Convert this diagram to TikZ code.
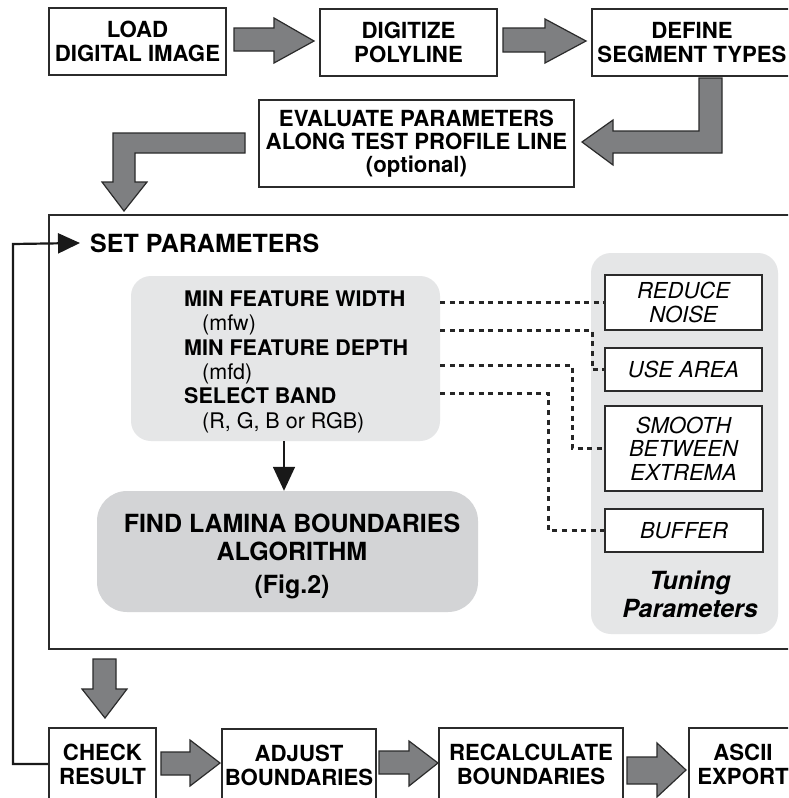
\documentclass[tikz,border=0pt]{standalone}
\usepackage{fontspec}
\setmainfont{TeX Gyre Heros}
\usetikzlibrary{arrows.meta}
\definecolor{arrowgray}{HTML}{7E7F81}
\definecolor{edgegray}{HTML}{2B2B2B}
\definecolor{lightpanel}{HTML}{E5E6E7}
\definecolor{midpanel}{HTML}{D3D4D6}
\begin{document}
\begin{tikzpicture}[x=1pt,y=-1pt,
  stepbox/.style={draw=edgegray, line width=1.4pt, fill=white, inner sep=0, align=center,
    font=\bfseries\fontsize{22.2}{24}\selectfont},
  tunebox/.style={draw=edgegray, line width=1.4pt, fill=white, inner sep=0, align=center,
    font=\itshape\fontsize{22}{23.5}\selectfont},
  blockarrow/.style={fill=arrowgray, draw=edgegray, line width=1.2pt, line join=miter},
  dotlink/.style={draw=black!85, line width=3pt, dash pattern=on 5pt off 4.6pt},
  feedback/.style={draw=black!90, line width=2.2pt},
  bigtext/.style={font=\bfseries\fontsize{25}{28}\selectfont, inner sep=0, align=center}]
\useasboundingbox (0,0) rectangle (788,798);
\clip (0,0) rectangle (788,798);
\fill[white] (0,0) rectangle (788,798);

% top row
\node[stepbox, minimum width=177, minimum height=67] (load) at (137.5,41.5) {LOAD\\DIGITAL IMAGE};
\node[stepbox, minimum width=177, minimum height=67] (digit) at (408.5,42.5) {DIGITIZE\\POLYLINE};
\node[stepbox, minimum width=200, minimum height=67] (define) at (692,42.5) {DEFINE\\SEGMENT TYPES};
\node[stepbox, minimum width=315, minimum height=87] (eval) at (416.5,143.5)
  {EVALUATE PARAMETERS\\[-1pt]ALONG TEST PROFILE LINE\\[-1pt](optional)};

% block arrows top
\draw[blockarrow] (234,28) -- (274,28) -- (274,18) -- (314,41) -- (274,63) -- (274,51) -- (234,51) -- cycle;
\draw[blockarrow] (503,28) -- (545,28) -- (545,19) -- (586,41) -- (545,63) -- (545,52) -- (503,52) -- cycle;
\draw[blockarrow] (699,78) -- (722,78) -- (722,153) -- (613,153) -- (613,165) -- (582,142)
  -- (613,120) -- (613,131) -- (699,131) -- cycle;
\draw[blockarrow] (245,133) -- (245,153) -- (135,153) -- (135,182) -- (147,182) -- (124,211)
  -- (102,182) -- (113,182) -- (113,133) -- cycle;

% main frame
\node[draw=edgegray, line width=1.4pt, minimum width=760, minimum height=434, inner sep=0] (frame) at (429,432) {};
\node[bigtext, anchor=west, inner xsep=10pt] (setp) at (80,243) {SET PARAMETERS};

% parameter panel
\node[fill=lightpanel, rounded corners=20, minimum width=309, minimum height=165, inner sep=0] (params) at (285.5,358.5) {};
\node[anchor=north west, inner sep=0, align=left, font=\fontsize{21.5}{24.4}\selectfont] (ptext) at (184,290.5)
  {\textbf{MIN FEATURE WIDTH}\\\hspace*{18pt}(mfw)\\\textbf{MIN FEATURE DEPTH}\\\hspace*{18pt}(mfd)\\\textbf{SELECT BAND}\\\hspace*{18pt}(R, G, B or RGB)};

% algorithm box
\node[fill=midpanel, rounded corners=30, minimum width=381, minimum height=121, inner sep=0] (find) at (287.5,551.5) {};
\node[bigtext] (findtext) at (292,556) {FIND LAMINA BOUNDARIES\\ALGORITHM\\[5pt](Fig.2)};
\coordinate (ax) at (284,0);
\draw[line width=1.6pt, draw=black!90, -{Triangle[length=24pt,width=22pt]}] (params.south -| ax) -- (find.north -| ax);

% tuning panel
\node[fill=lightpanel, rounded corners=20, minimum width=187, minimum height=381, inner sep=0] (tpanel) at (684.5,443.5) {};
\node[tunebox, minimum width=157, minimum height=55] (reduce) at (683.5,302.5) {REDUCE\\NOISE};
\node[tunebox, minimum width=157, minimum height=43] (usearea) at (683.5,369.5) {USE AREA};
\node[tunebox, minimum width=157, minimum height=85] (smooth) at (683.5,448.5) {SMOOTH\\BETWEEN\\EXTREMA};
\node[tunebox, minimum width=158, minimum height=43] (buffer) at (684,530.5) {BUFFER};
\node[bigtext, font=\bfseries\itshape\fontsize{25}{28}\selectfont] (tlabel) at (690,594) {Tuning\\Parameters};

% dotted links
\coordinate (k2) at (592,330);
\coordinate (k3) at (572,365);
\coordinate (k4) at (548,393);
\draw[dotlink] (params.east |- reduce.west) -- (reduce.west);
\draw[dotlink] (params.east |- k2) -- (k2) |- (usearea.west);
\draw[dotlink] (params.east |- k3) -- (k3) |- (smooth.west);
\draw[dotlink] (params.east |- k4) -- (k4) |- (buffer.west);

% bottom row
\draw[blockarrow] (93,659) -- (116,659) -- (116,689) -- (127,689) -- (105,718) -- (82,689) -- (93,689) -- cycle;
\node[stepbox, minimum width=107, minimum height=72] (check) at (102.5,764) {CHECK\\RESULT};
\node[stepbox, minimum width=154, minimum height=72] (adjust) at (299,765) {ADJUST\\BOUNDARIES};
\node[stepbox, minimum width=184, minimum height=72] (recalc) at (531,764) {RECALCULATE\\BOUNDARIES};
\node[stepbox, minimum width=108, minimum height=72] (ascii) at (743,764) {ASCII\\EXPORT};
\draw[blockarrow] (161,752) -- (190,752) -- (190,740) -- (220,763) -- (190,786) -- (190,775) -- (161,775) -- cycle;
\draw[blockarrow] (379,751) -- (409,751) -- (409,741) -- (438,763) -- (409,786) -- (409,774) -- (379,774) -- cycle;
\draw[blockarrow] (627,757) -- (657,757) -- (657,743) -- (686,770) -- (657,797) -- (657,784) -- (627,784) -- cycle;

% feedback loop
\draw[feedback, -{Triangle[length=22pt,width=20pt]}] (check.west) -| (13,244) -- (setp.west);
\end{tikzpicture}
\end{document}
